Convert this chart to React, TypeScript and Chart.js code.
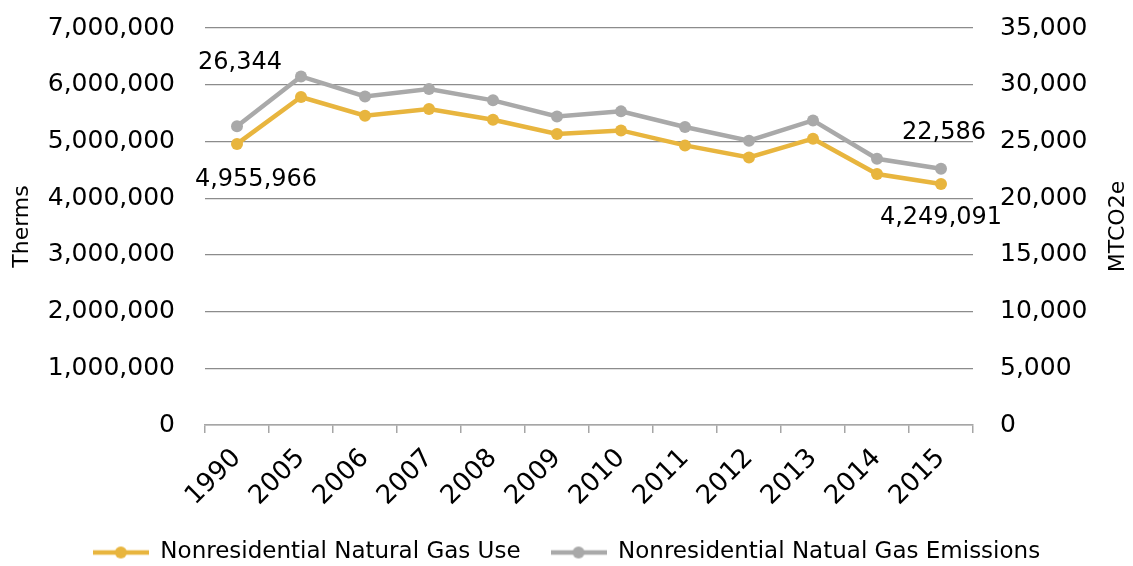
import React, { useEffect, useRef } from "react";
import { Chart, registerables } from "chart.js";

Chart.register(...registerables);

const categories = ["1990", "2005", "2006", "2007", "2008", "2009", "2010", "2011", "2012", "2013", "2014", "2015"];
const gasUse = [4955966, 5783000, 5453000, 5571000, 5383000, 5131000, 5194000, 4930000, 4718000, 5048000, 4425000, 4249091];
const emissions = [26344, 30730, 28970, 29620, 28620, 27200, 27650, 26270, 25060, 26850, 23470, 22586];
const seriesNames = ["Nonresidential Natural Gas Use", "Nonresidential Natual Gas Emissions"];
const leftTitle = "Therms";
const rightTitle = "MTCO2e";
// data labels shown: [datasetIndex, pointIndex]
const labelledPoints: [number, number][] = [[1, 0], [0, 0], [1, 11], [0, 11]];

const GOLD = "#E8B53E";
const GRAY = "#A9A9A9";
const FONT = "'DejaVu Sans', sans-serif";
const FS = 24;

function legendIcon(color: string) {
  const c = document.createElement("canvas");
  c.width = 56;
  c.height = 14;
  const g = c.getContext("2d")!;
  g.strokeStyle = color;
  g.lineWidth = 4.5;
  g.beginPath();
  g.moveTo(0, 7);
  g.lineTo(56, 7);
  g.stroke();
  g.fillStyle = color;
  g.beginPath();
  g.arc(28, 7, 6, 0, Math.PI * 2);
  g.fill();
  return c;
}

export default function App() {
  const ref = useRef<HTMLCanvasElement>(null);
  useEffect(() => {
    document.body.style.margin = "0";
    const icons = [legendIcon(GOLD), legendIcon(GRAY)];
    const offsets: Record<string, [number, number]> = {
      "1,0": [3, -63],
      "0,0": [19, 36],
      "1,11": [3, -36],
      "0,11": [0, 34],
    };
    const extras = {
      id: "extras",
      afterDatasetsDraw(chart: any) {
        const ctx = chart.ctx;
        ctx.save();
        ctx.font = `${FS}px ${FONT}`;
        ctx.fillStyle = "#000";
        ctx.textAlign = "center";
        ctx.textBaseline = "middle";
        labelledPoints.forEach(([d, i]) => {
          const el = chart.getDatasetMeta(d).data[i];
          const v = chart.data.datasets[d].data[i] as number;
          const [dx, dy] = offsets[`${d},${i}`] || [0, -30];
          ctx.fillText(v.toLocaleString("en-US"), el.x + dx, el.y + dy);
        });
        const a = chart.chartArea;
        const cy = (a.top + a.bottom) / 2;
        ctx.font = `22px ${FONT}`;
        ctx.translate(22, cy);
        ctx.rotate(-Math.PI / 2);
        ctx.fillText(leftTitle, 0, 0);
        ctx.setTransform(1, 0, 0, 1, 0, 0);
        ctx.translate(1118, cy);
        ctx.rotate(-Math.PI / 2);
        ctx.fillText(rightTitle, 0, 0);
        ctx.restore();
      },
    };
    const noPad = (s: any) => {
      s.paddingTop = 0;
      s.paddingBottom = 0;
    };
    const chart = new Chart(ref.current!, {
      type: "line",
      data: {
        labels: categories,
        datasets: [
          {
            label: seriesNames[0],
            data: gasUse,
            yAxisID: "y",
            borderColor: GOLD,
            backgroundColor: GOLD,
            borderWidth: 4.5,
            pointRadius: 6,
            pointBackgroundColor: GOLD,
            pointBorderWidth: 0,
            tension: 0,
          },
          {
            label: seriesNames[1],
            data: emissions,
            yAxisID: "y1",
            borderColor: GRAY,
            backgroundColor: GRAY,
            borderWidth: 4.5,
            pointRadius: 6,
            pointBackgroundColor: GRAY,
            pointBorderWidth: 0,
            tension: 0,
          },
        ],
      },
      options: {
        animation: false,
        responsive: false,
        layout: { padding: { top: 28, left: 0, right: 0, bottom: -8 } },
        plugins: {
          tooltip: { enabled: false },
          legend: {
            position: "bottom",
            labels: {
              usePointStyle: true,
              pointStyleWidth: 56,
              padding: 30,
              color: "#000",
              font: { family: FONT, size: 23 },
              generateLabels: (ch: any) =>
                ch.data.datasets.map((ds: any, i: number) => ({
                  text: ds.label,
                  pointStyle: icons[i],
                  fillStyle: ds.borderColor,
                  strokeStyle: ds.borderColor,
                  lineWidth: 0,
                  hidden: false,
                  datasetIndex: i,
                  fontColor: "#000",
                })),
            },
          },
        },
        scales: {
          x: {
            offset: true,
            grid: { drawOnChartArea: false, drawTicks: true, tickLength: 8, color: "#A6A6A6", lineWidth: 1.5, offset: true },
            border: { display: true, color: "#A6A6A6", width: 1.5 },
            ticks: { color: "#000", font: { family: FONT, size: 26 }, maxRotation: 45, minRotation: 45, padding: 10 },
            afterFit: (s: any) => { s.height = 86; },
          },
          y: {
            position: "left",
            min: 0,
            max: 7000000,
            ticks: {
              stepSize: 1000000,
              color: "#000",
              padding: 30,
              font: { family: FONT, size: 25 },
              callback: (v: any) => Number(v).toLocaleString("en-US"),
            },
            grid: { color: "#8C8C8C", lineWidth: 1.2, drawTicks: false },
            border: { display: false },
            afterFit: (s: any) => { s.width = 205; noPad(s); },
          },
          y1: {
            position: "right",
            min: 0,
            max: 35000,
            ticks: {
              stepSize: 5000,
              color: "#000",
              padding: 27,
              font: { family: FONT, size: 25 },
              callback: (v: any) => Number(v).toLocaleString("en-US"),
            },
            grid: { drawOnChartArea: false, drawTicks: false },
            border: { display: false },
            afterFit: (s: any) => { s.width = 160; noPad(s); },
          },
        },
      },
      plugins: [extras],
    } as any);
    return () => chart.destroy();
  }, []);
  return (
    <div style={{ width: 1133, height: 566 }}>
      <canvas ref={ref} width={1133} height={566} />
    </div>
  );
}
